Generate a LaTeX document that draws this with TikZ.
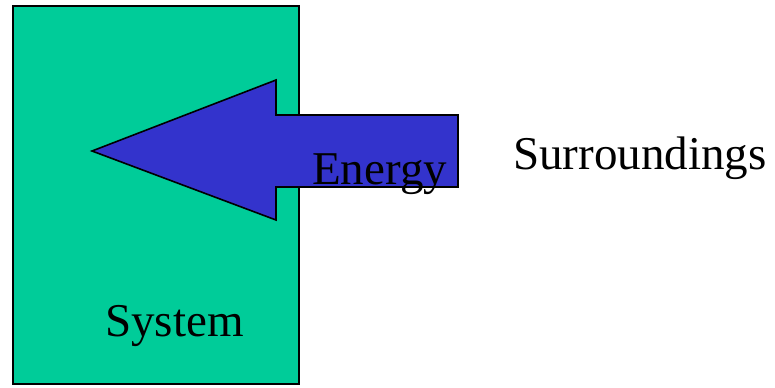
\documentclass[tikz,border=0pt]{standalone}
\usepackage{fontspec}
\setmainfont{Liberation Serif}
\usepackage{tikz}
\usetikzlibrary{positioning, arrows.meta}
\definecolor{sysgreen}{HTML}{00CC99}
\definecolor{energyblue}{HTML}{3333CC}
\tikzset{
    region/.style = {rectangle, draw, fill=sysgreen, line width=1.6pt, inner sep=0pt,
                        minimum width=286bp, minimum height=378bp},
    flow/.style = {draw, fill=energyblue, line width=1.6pt, line join=miter},
    label/.style = {inner sep=0pt, anchor=base west, font=\fontsize{47.2}{50}\selectfont}
}

\begin{document}
\begin{tikzpicture}[x=1bp, y=-1bp]
			\useasboundingbox (0,0) rectangle (775,387);
			\node (sys) [region, anchor=north west] at (12,5) {};
			\draw [flow] (92,151) -- (276,80) -- (276,115) -- (458,115) -- (458,187) -- (276,187) -- (276,220) -- cycle;
			\node (energy) [label] at (312,184) {Energy};
			\node (surr) [label] at (513,169) {Surroundings};
			\node (syslabel) [label] at (105,336) {System};
		\end{tikzpicture}
\end{document}
